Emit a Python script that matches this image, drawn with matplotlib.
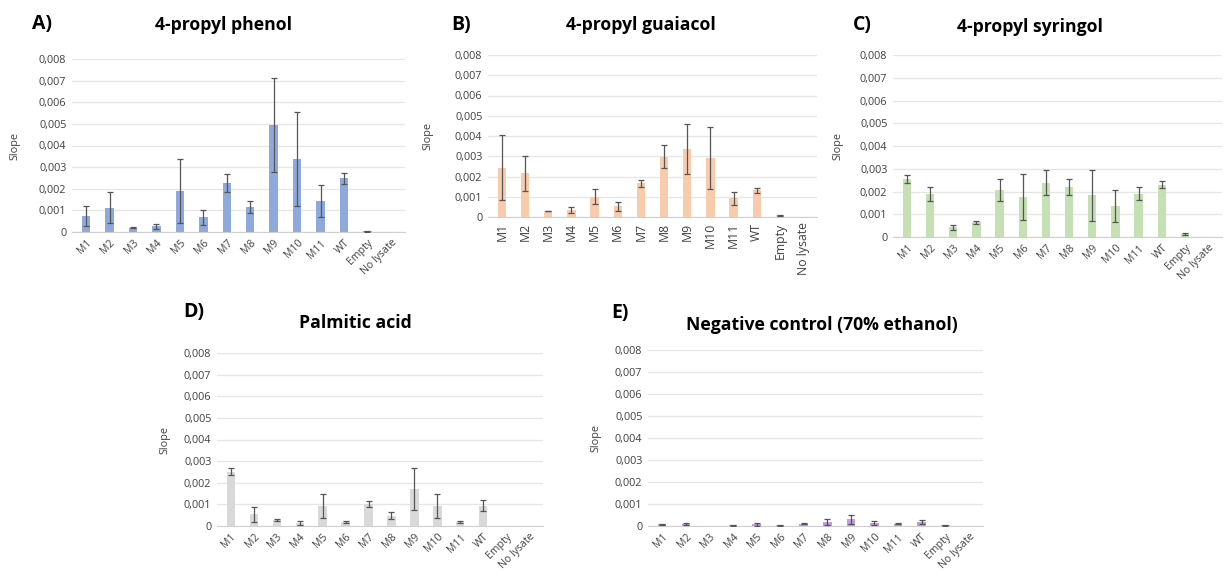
import matplotlib
matplotlib.use("Agg")
import matplotlib.pyplot as plt
from matplotlib.ticker import FuncFormatter, MultipleLocator
import numpy as np

plt.rcParams['font.family'] = ['Open Sans', 'DejaVu Sans']

# categories on the x axis (same for every panel)
samples = ['M1', 'M2', 'M3', 'M4', 'M5', 'M6', 'M7', 'M8', 'M9', 'M10', 'M11', 'WT', 'Empty', 'No lysate']

# slopes and error (+/-)
phenol = [0.00073, 0.00113, 0.00020, 0.00026, 0.00189, 0.00068, 0.00226, 0.00116, 0.00495, 0.00337, 0.00144, 0.00248, 0.00003, 0]
phenol_err = [0.00045, 0.00070, 0.00001, 0.00012, 0.00147, 0.00035, 0.00041, 0.00029, 0.00218, 0.00219, 0.00075, 0.00024, 0.00001, 0]

guaiacol = [0.00243, 0.00215, 0.00030, 0.00036, 0.00099, 0.00053, 0.00167, 0.00297, 0.00335, 0.00292, 0.00092, 0.00132, 0.00008, 0]
guaiacol_err = [0.00160, 0.00085, 0.00001, 0.00015, 0.00037, 0.00021, 0.00018, 0.00057, 0.00124, 0.00152, 0.00032, 0.00013, 0.00003, 0]

syringol = [0.00255, 0.00190, 0.00042, 0.00064, 0.00208, 0.00177, 0.00239, 0.00221, 0.00183, 0.00135, 0.00190, 0.00230, 0.00013, 0]
syringol_err = [0.00018, 0.00030, 0.00012, 0.00005, 0.00048, 0.00102, 0.00055, 0.00035, 0.00113, 0.00070, 0.00029, 0.00015, 0.00004, 0]

palmitic = [0.00251, 0.00054, 0.00026, 0.00014, 0.00094, 0.00018, 0.00102, 0.00048, 0.00171, 0.00094, 0.00018, 0.00094, 0, 0]
palmitic_err = [0.00017, 0.00035, 0.00005, 0.00008, 0.00055, 0.00003, 0.00015, 0.00017, 0.00098, 0.00055, 0.00003, 0.00026, 0, 0]

negative = [0.00008, 0.00008, 0, 0.00003, 0.00008, 0.00003, 0.00010, 0.00018, 0.00030, 0.00014, 0.00010, 0.00018, 0.00003, 0]
negative_err = [0.00003, 0.00004, 0, 0.00001, 0.00006, 0.00001, 0.00003, 0.00012, 0.00022, 0.00010, 0.00003, 0.00011, 0.00001, 0]

W, H = 1224, 571
fig = plt.figure(figsize=(W / 100, H / 100), dpi=100)


def comma(v, pos):
    if abs(v) < 1e-12:
        return '0'
    return ('%.3f' % v).replace('.', ',')


def panel(box, vals, errs, color, title, letter, title_xy, letter_xy, slope_x, rot):
    l, r, t, b = box
    ax = fig.add_axes([l / W, 1 - b / H, (r - l) / W, (b - t) / H])
    x = np.arange(len(samples))
    vals = np.array(vals)
    errs = np.array(errs)
    ax.bar(x, vals, width=0.36, color=color, zorder=2)
    # no error bar where nothing was measured
    m = errs > 0
    ax.errorbar(x[m], vals[m], yerr=errs[m], fmt='none', ecolor='#555555', elinewidth=0.9,
                capsize=2.5, capthick=0.9, zorder=3)
    ax.set_ylim(0, 0.008)
    ax.set_xlim(-0.6, len(samples) - 0.4)
    ax.yaxis.set_major_locator(MultipleLocator(0.001))
    ax.yaxis.set_major_formatter(FuncFormatter(comma))
    ax.grid(axis='y', color='#e6e6e6', linewidth=0.9, zorder=0)
    ax.set_axisbelow(True)
    for s in ['top', 'right', 'left']:
        ax.spines[s].set_visible(False)
    ax.spines['bottom'].set_color('#d0d0d0')
    ax.tick_params(axis='both', length=0, colors='#404040', pad=4)
    ax.tick_params(axis='y', labelsize=7.8)
    ax.set_xticks(x)
    if rot == 90:
        ax.set_xticklabels(samples, rotation=90, fontsize=8.8)
    else:
        ax.set_xticklabels(samples, rotation=45, ha='right', rotation_mode='anchor', fontsize=7.6)
    fig.text(slope_x / W, 1 - (t + b) / 2 / H, 'Slope', rotation=90, fontsize=7.8,
             color='#404040', ha='center', va='center')
    fig.text(title_xy[0] / W, 1 - title_xy[1] / H, title, fontsize=12.7, fontweight='bold',
             ha='center', va='center')
    fig.text(letter_xy[0] / W, 1 - letter_xy[1] / H, letter, fontsize=14, fontweight='bold',
             ha='center', va='center')
    return ax


panel((72, 405, 59, 232), phenol, phenol_err, '#8eaadc', '4-propyl phenol', 'A)',
      (224, 25), (42, 24), 15, 45)
panel((488, 817, 55, 217), guaiacol, guaiacol_err, '#f8cbad', '4-propyl guaiacol', 'B)',
      (641, 25), (461, 25), 428, 90)
panel((893, 1222, 55, 237), syringol, syringol_err, '#c5e0b4', '4-propyl syringol', 'C)',
      (1030, 27), (862, 25), 838, 45)
panel((217, 543, 353, 526), palmitic, palmitic_err, '#d9d9d9', 'Palmitic acid', 'D)',
      (355, 323), (194, 312), 165, 45)
panel((648, 983, 350, 526), negative, negative_err, '#c49be3', 'Negative control (70% ethanol)', 'E)',
      (822, 325), (620, 313), 596, 45)

fig.savefig('out.png', dpi=100, facecolor='white')
